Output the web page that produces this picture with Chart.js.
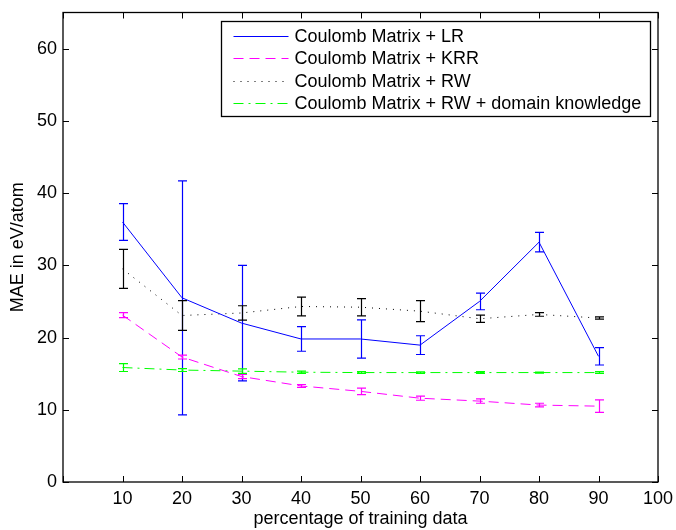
<!DOCTYPE html>
<html>
<head>
<meta charset="utf-8">
<script src="https://cdn.jsdelivr.net/npm/chart.js@4.4.0/dist/chart.umd.min.js"></script>
<style>
  html, body { margin: 0; padding: 0; background: #fff; }
</style>
</head>
<body>
<canvas id="maeChart" width="676" height="530"></canvas>
<script>
// data
const trainPct = [10, 20, 30, 40, 50, 60, 70, 80, 90];

const lrMae   = [36.0, 25.5, 22.0, 19.8, 19.8, 18.95, 25.0, 33.2, 17.4];
const lrErr   = [2.55, 16.2, 8.0, 1.7, 2.65, 1.3, 1.15, 1.35, 1.2];

const krrMae  = [23.1, 17.3, 14.6, 13.3, 12.55, 11.6, 11.2, 10.65, 10.5];
const krrErr  = [0.35, 0.27, 0.28, 0.2, 0.45, 0.28, 0.3, 0.25, 0.87];

const rwMae   = [29.5, 23.05, 23.4, 24.3, 24.2, 23.65, 22.6, 23.2, 22.7];
const rwErr   = [2.7, 2.05, 1.0, 1.3, 1.2, 1.45, 0.5, 0.25, 0.15];

const dkMae   = [15.85, 15.5, 15.35, 15.2, 15.15, 15.15, 15.15, 15.15, 15.15];
const dkErr   = [0.55, 0.2, 0.3, 0.15, 0.12, 0.1, 0.12, 0.08, 0.12];

const seriesLabels = [
    'Coulomb Matrix + LR',
    'Coulomb Matrix + KRR',
    'Coulomb Matrix + RW',
    'Coulomb Matrix + RW + domain knowledge'
];

const FONT = '"Liberation Sans", Arial, Helvetica, sans-serif';

function toPoints(ys) {
    return trainPct.map((x, i) => ({ x: x, y: ys[i] }));
}

function makeSet(label, ys, errs, color, dash) {
    return {
        label: label,
        data: toPoints(ys),
        errors: errs,
        borderColor: color,
        backgroundColor: color,
        borderWidth: 1,
        borderDash: dash,
        pointRadius: 0,
        tension: 0,
        fill: false
    };
}

// error bars, box, inward ticks, legend
const matlabLook = {
    id: 'matlabLook',
    afterDatasetsDraw(chart) {
        const ctx = chart.ctx;
        const xs = chart.scales.x, ys = chart.scales.y;
        chart.data.datasets.forEach(ds => {
            ctx.save();
            ctx.strokeStyle = ds.borderColor;
            ctx.lineWidth = 1.2;
            ctx.setLineDash([]);
            ds.data.forEach((p, i) => {
                const e = ds.errors[i];
                const px = Math.round(xs.getPixelForValue(p.x)) + 0.5;
                const top = ys.getPixelForValue(p.y + e);
                const bot = ys.getPixelForValue(p.y - e);
                ctx.beginPath();
                ctx.moveTo(px, top); ctx.lineTo(px, bot);
                ctx.moveTo(px - 4.5, top); ctx.lineTo(px + 4.5, top);
                ctx.moveTo(px - 4.5, bot); ctx.lineTo(px + 4.5, bot);
                ctx.stroke();
            });
            ctx.restore();
        });
    },
    afterDraw(chart) {
        const ctx = chart.ctx;
        const a = chart.chartArea;
        const xs = chart.scales.x, ys = chart.scales.y;
        ctx.save();
        ctx.strokeStyle = '#000';
        ctx.lineWidth = 1.3;
        ctx.strokeRect(a.left, a.top, a.right - a.left, a.bottom - a.top);

        // inward ticks on all four sides
        ctx.lineWidth = 1;
        ctx.beginPath();
        xs.ticks.forEach(t => {
            const px = Math.round(xs.getPixelForValue(t.value)) + 0.5;
            ctx.moveTo(px, a.bottom); ctx.lineTo(px, a.bottom - 6);
            ctx.moveTo(px, a.top); ctx.lineTo(px, a.top + 6);
        });
        ys.ticks.forEach(t => {
            const py = Math.round(ys.getPixelForValue(t.value)) + 0.5;
            ctx.moveTo(a.left, py); ctx.lineTo(a.left + 6, py);
            ctx.moveTo(a.right, py); ctx.lineTo(a.right - 6, py);
        });
        ctx.stroke();

        // legend
        ctx.font = '18px ' + FONT;
        const textW = Math.max(...chart.data.datasets.map(d => ctx.measureText(d.label).width));
        const sample = 55, padL = 12, gap = 6, padR = 9, rowH = 22.5;
        const boxW = Math.round(padL + sample + gap + textW + padR);
        const boxH = 95;
        const bx = Math.round(a.right - 8 - boxW) + 0.5;
        const by = Math.round(a.top + 8) + 0.5;
        ctx.fillStyle = '#fff';
        ctx.fillRect(bx, by, boxW, boxH);
        ctx.lineWidth = 1.3;
        ctx.strokeStyle = '#000';
        ctx.strokeRect(bx, by, boxW, boxH);
        chart.data.datasets.forEach((ds, i) => {
            const cy = Math.round(by + 14 + i * rowH) + 0.5;
            ctx.beginPath();
            ctx.strokeStyle = ds.borderColor;
            ctx.lineWidth = 1;
            ctx.setLineDash(ds.borderDash || []);
            ctx.moveTo(bx + padL, cy);
            ctx.lineTo(bx + padL + sample, cy);
            ctx.stroke();
            ctx.setLineDash([]);
            ctx.fillStyle = '#000';
            ctx.textBaseline = 'middle';
            ctx.textAlign = 'left';
            ctx.fillText(ds.label, bx + padL + sample + gap, cy + 1);
        });
        ctx.restore();
    }
};

const chart = new Chart(document.getElementById('maeChart'), {
    type: 'line',
    data: {
        datasets: [
            makeSet(seriesLabels[0], lrMae, lrErr, '#0000ff', []),
            makeSet(seriesLabels[1], krrMae, krrErr, '#ff00ff', [10, 6]),
            makeSet(seriesLabels[2], rwMae, rwErr, '#000000', [1, 6]),
            makeSet(seriesLabels[3], dkMae, dkErr, '#00ff00', [10, 5, 2, 5])
        ]
    },
    options: {
        responsive: false,
        animation: false,
        layout: { padding: { top: 12.5, right: 18, left: 0, bottom: 0 } },
        plugins: {
            legend: { display: false },
            tooltip: { enabled: false }
        },
        scales: {
            x: {
                type: 'linear',
                min: 0,
                max: 100,
                grid: { display: false, drawTicks: false },
                border: { display: false },
                ticks: {
                    stepSize: 10,
                    padding: 6,
                    color: '#000',
                    font: { family: FONT, size: 18 },
                    maxRotation: 0,
                    autoSkip: false,
                    callback: v => (v === 0 ? '' : v)
                },
                title: {
                    display: true,
                    text: 'percentage of training data',
                    color: '#000',
                    font: { family: FONT, size: 18 },
                    padding: { top: 0, bottom: 0 }
                },
                afterFit: s => { s.height = 48; s.paddingLeft = 0; s.paddingRight = 0; }
            },
            y: {
                min: 0,
                max: 65,
                grid: { display: false, drawTicks: false },
                border: { display: false },
                ticks: {
                    stepSize: 10,
                    includeBounds: false,
                    padding: 6,
                    color: '#000',
                    font: { family: FONT, size: 18 }
                },
                title: {
                    display: true,
                    text: 'MAE in eV/atom',
                    color: '#000',
                    font: { family: FONT, size: 18 },
                    padding: { top: 7, bottom: 0 }
                },
                afterFit: s => { s.width = 63; s.paddingTop = 0; s.paddingBottom = 0; }
            }
        }
    },
    plugins: [matlabLook]
});
</script>
</body>
</html>
